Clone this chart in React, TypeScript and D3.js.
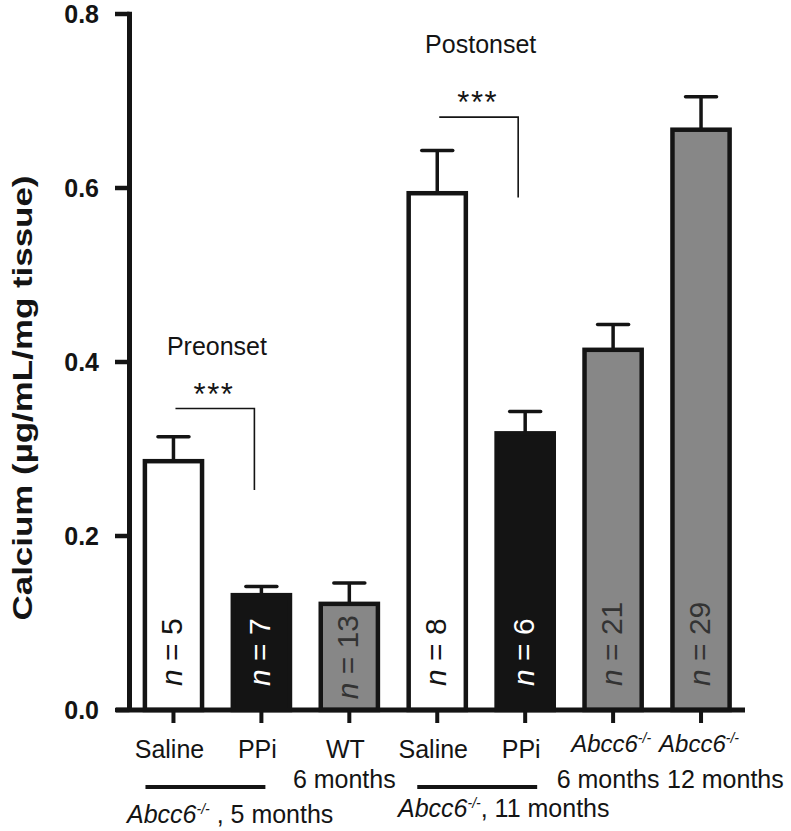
import React from 'react';
import * as d3 from 'd3';

// bar groups, left to right
const groups = ['saline5', 'ppi5', 'wt6', 'saline11', 'ppi11', 'ko6', 'ko12'];
const treatments = ['saline', 'ppi', 'wt', 'saline', 'ppi', 'ko', 'ko'];
const means = [0.286, 0.132, 0.122, 0.594, 0.318, 0.414, 0.667];
const errors = [0.028, 0.010, 0.024, 0.049, 0.025, 0.029, 0.038];
const sampleSizes = [5, 7, 13, 8, 6, 21, 29];
const yTicks = [0, 0.2, 0.4, 0.6, 0.8];

// x-axis label rows
const topLabels = ['Saline', 'PPi', 'WT', 'Saline', 'PPi', 'Abcc6', 'Abcc6'];
const italicTop = [false, false, false, false, false, true, true];
const ageLabels = ['', '', '6 months', '', '', '6 months', '12 months'];

// significance brackets (indexes into groups)
const comparisons = [
  { from: 0, to: 1, top: 0.3465, bottom: 0.253, stars: '***', title: 'Preonset', titleAt: 0.4075 },
  { from: 3, to: 4, top: 0.6815, bottom: 0.589, stars: '***', title: 'Postonset', titleAt: 0.755 },
];

const fillFor: Record<string, string> = {
  saline: '#ffffff',
  ppi: '#141414',
  wt: '#878787',
  ko: '#878787',
};
const textFor: Record<string, string> = {
  saline: '#141414',
  ppi: '#ffffff',
  wt: '#333333',
  ko: '#333333',
};

const FONT = '"Liberation Sans", Arial, Helvetica, sans-serif';
const INK = '#141414';

const App = () => {
  const width = 791;
  const height = 831;
  const axisX = 129.5;
  const axisRight = 745;

  const y = d3.scaleLinear().domain([0, 0.8]).range([710, 14]);
  const x = d3
    .scaleBand<string>()
    .domain(groups)
    .range([axisX, axisRight])
    .paddingInner(0.35)
    .paddingOuter(0.175);
  const bw = x.bandwidth();
  const cx = (i: number) => (x(groups[i]) as number) + bw / 2;
  const y0 = y(0);

  return (
    <svg
      width={width}
      height={height}
      style={{ position: 'absolute', left: 0, top: 0, background: '#fff' }}
      fontFamily={FONT}
    >
      {/* y axis label */}
      <text
        transform={`translate(32,398) rotate(-90)`}
        textAnchor="middle"
        fontSize={27}
        fontWeight="bold"
        fill={INK}
        textLength={445}
        lengthAdjust="spacingAndGlyphs"
      >
        Calcium (µg/mL/mg tissue)
      </text>

      {/* y ticks */}
      {yTicks.map((t) => (
        <g key={t}>
          <line x1={115} x2={axisX} y1={y(t)} y2={y(t)} stroke={INK} strokeWidth={4.5} />
          <text
            x={99}
            y={y(t)}
            dy="0.36em"
            textAnchor="end"
            fontSize={25}
            fontWeight="bold"
            fill={INK}
          >
            {d3.format('.1f')(t)}
          </text>
        </g>
      ))}

      {/* bars */}
      {groups.map((g, i) => {
        const top = y(means[i]);
        const capY = y(means[i] + errors[i]);
        const c = cx(i);
        const label = `n = ${sampleSizes[i]}`;
        const len = 30 * (label.length === 5 ? 2.3 : 2.85);
        let start = 686;
        if (start - len < top + 10) start = Math.min(702, top + 10 + len);
        return (
          <g key={g}>
            <line x1={c} x2={c} y1={top} y2={capY} stroke={INK} strokeWidth={3.5} />
            <line x1={c - 15.5} x2={c + 15.5} y1={capY} y2={capY} stroke={INK} strokeWidth={3.5} strokeLinecap="round" />
            <rect
              x={x(g)}
              y={top}
              width={bw}
              height={y0 - top}
              fill={fillFor[treatments[i]]}
              stroke={INK}
              strokeWidth={4.5}
            />
            <text
              transform={`translate(${c + 9},${start}) rotate(-90)`}
              fontSize={30}
              fill={textFor[treatments[i]]}
            >
              <tspan fontStyle="italic">n</tspan>
              {` = ${sampleSizes[i]}`}
            </text>
          </g>
        );
      })}

      {/* x axis */}
      <line x1={axisX} x2={axisX} y1={11.7} y2={y0 + 2} stroke={INK} strokeWidth={5} />
      <line x1={116} x2={axisRight} y1={y0} y2={y0} stroke={INK} strokeWidth={5} />
      {groups.map((g, i) => (
        <line key={g} x1={cx(i)} x2={cx(i)} y1={y0} y2={y0 + 13} stroke={INK} strokeWidth={4} />
      ))}

      {/* comparison brackets */}
      {comparisons.map((cmp) => {
        const x1 = cx(cmp.from) + 2;
        const x2 = cx(cmp.to) - 7;
        const mid = (x1 + x2) / 2;
        return (
          <g key={cmp.title}>
            <polyline
              points={`${x1},${y(cmp.top)} ${x2},${y(cmp.top)} ${x2},${y(cmp.bottom)}`}
              fill="none"
              stroke={INK}
              strokeWidth={1.6}
            />
            <text x={mid - 1} y={y(cmp.top) - 4} textAnchor="middle" fontSize={31} fill={INK} letterSpacing={1.5}>
              {cmp.stars}
            </text>
            <text x={mid + 2} y={y(cmp.titleAt)} textAnchor="middle" fontSize={25} fill={INK}>
              {cmp.title}
            </text>
          </g>
        );
      })}

      {/* category labels */}
      {topLabels.map((l, i) =>
        italicTop[i] ? (
          <text key={i} x={cx(i) - 2} y={752} textAnchor="middle" fontSize={24} fill={INK} fontStyle="italic">
            {l}
            <tspan fontSize={14} dy={-9}>-/-</tspan>
          </text>
        ) : (
          <text key={i} x={cx(i) - 4} y={758} textAnchor="middle" fontSize={25} fill={INK}>
            {l}
          </text>
        )
      )}
      {ageLabels.map((l, i) =>
        l ? (
          <text
            key={i}
            x={i === 6 ? cx(i) - 34 : cx(i) - 5}
            y={788}
            textAnchor={i === 6 ? 'start' : 'middle'}
            fontSize={25}
            fill={INK}
          >
            {l}
          </text>
        ) : null
      )}

      {/* genotype / age group bars */}
      <line x1={cx(0) - 28} x2={cx(1) + 4} y1={787} y2={787} stroke={INK} strokeWidth={4} />
      <line x1={cx(3) - 20} x2={cx(4) + 12} y1={787} y2={787} stroke={INK} strokeWidth={4} />
      <text x={127} y={823} fontSize={25} fill={INK}>
        <tspan fontStyle="italic">Abcc6</tspan>
        <tspan fontStyle="italic" fontSize={14} dy={-9}>-/-</tspan>
        <tspan dy={9}> , 5 months</tspan>
      </text>
      <text x={398} y={817} fontSize={25} fill={INK}>
        <tspan fontStyle="italic">Abcc6</tspan>
        <tspan fontStyle="italic" fontSize={14} dy={-9}>-/-</tspan>
        <tspan dy={9}>, 11 months</tspan>
      </text>
    </svg>
  );
};

export default App;
